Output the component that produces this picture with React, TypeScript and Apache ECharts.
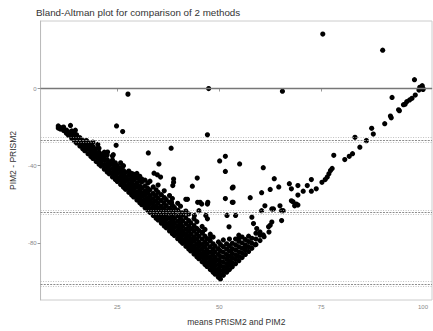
import React, { useEffect, useRef } from "react";
import * as echarts from "echarts";

const chartTitle = "Bland-Altman plot for comparison of 2 methods";
const xTitle = "means PRISM2 and PIM2";
const yTitle = "PIM2 - PRISM2";
const xTicks = [25, 50, 75, 100];
const yTicks = [-80, -40, 0];
const zeroLine = 0;
const meanDiff = -64;
const upperLoA = -26.7;
const lowerLoA = -101.3;
const ciLines = [-25.4, -28, -63.1, -64.9, -100, -102.6];

// dense band: [mean, list of differences]
const bandColumns: Array<[number, number[]]> = [
  [10.5, [-19.4, -20.5]],
  [11, [-20.2, -21]],
  [11.8, [-21.8, -20]],
  [12.5, [-23.2, -21.5]],
  [13, [-24.2, -22.5]],
  [13.8, [-25.8, -23.8, -22]],
  [14.5, [-27.2, -25, -23.5]],
  [15, [-28.2, -26.3, -24]],
  [15.8, [-29.8, -27.5, -25.5]],
  [16.5, [-31.2, -29, -27]],
  [17, [-32.2, -30.3, -28.2]],
  [17.8, [-33.8, -31.5, -29.5, -27.8]],
  [18.5, [-35.2, -33, -31, -29]],
  [19, [-36.2, -34.5, -32.3, -30]],
  [19.8, [-37.8, -35.6, -33.5, -31.2]],
  [20.5, [-39.2, -37, -35, -33, -31]],
  [21, [-40.2, -38.3, -36, -34]],
  [21.8, [-41.8, -39.5, -37.2, -35, -33]],
  [22.5, [-43.2, -41, -39, -36.8, -34.5]],
  [23, [-44.2, -42.3, -40, -38]],
  [23.8, [-45.8, -43.6, -41.5, -39.2, -37, -35]],
  [24.5, [-47.2, -45, -43, -40.8, -38.5]],
  [25, [-48.2, -46.3, -44, -42, -40]],
  [25.8, [-49.8, -47.6, -45.5, -43.2, -41, -38.5]],
  [26.5, [-51.2, -49, -47, -44.8, -42.5, -40]],
  [27, [-52.2, -50.3, -48, -46, -43.5]],
  [27.8, [-53.8, -51.6, -49.5, -47.2, -45, -42.8]],
  [28.5, [-55.2, -53, -51, -48.8, -46.5, -44]],
  [29, [-56.2, -54.3, -52, -50, -47.6, -45.2]],
  [29.8, [-57.8, -55.6, -53.5, -51.2, -49, -46.5, -44]],
  [30.5, [-59.2, -57, -55, -52.8, -50.5, -47.8, -45.5]],
  [31, [-60.2, -58.3, -56, -54, -51.4, -48.5]],
  [31.8, [-61.8, -59.6, -57.5, -55.2, -53, -50.5, -47.5]],
  [32.5, [-63.2, -61, -59, -56.8, -54.3, -51.8, -49]],
  [33, [-64.2, -62.3, -60, -58, -55.5, -52.6, -48]],
  [33.8, [-65.8, -63.6, -61.5, -59.2, -57, -54.4, -51]],
  [34.5, [-67.2, -65, -63, -60.8, -58.3, -55.5, -52.5]],
  [35, [-68.2, -66.3, -64, -62, -59.5, -56.8, -53.8, -50]],
  [35.8, [-69.8, -67.6, -65.5, -63.2, -61, -58, -55]],
  [36.5, [-71.2, -69, -67, -64.8, -62.3, -59.5, -56.5, -53]],
  [37, [-72.2, -70.3, -68, -66, -63.5, -60.8, -57.5]],
  [37.8, [-73.8, -71.6, -69.5, -67.2, -64.6, -62, -59, -55.5]],
  [38.5, [-75.2, -73, -71, -68.6, -66, -63.4, -60.5, -57]],
  [39, [-76.2, -74.3, -72, -69.8, -67.3, -64.5, -61.6]],
  [39.8, [-77.8, -75.6, -73.5, -71.2, -68.8, -66, -63, -59.5]],
  [40.5, [-79.2, -77, -75, -72.6, -70, -67.2, -64.2, -61]],
  [41, [-80.2, -78.3, -76, -73.8, -71.5, -68.5, -65.5]],
  [41.8, [-81.8, -79.6, -77.5, -75.2, -72.8, -70, -67, -63.5]],
  [42.5, [-83.2, -81, -79, -76.6, -74, -71.4, -68.4, -65]],
  [43, [-84.2, -82.3, -80, -77.8, -75.5, -72.8, -69.5]],
  [43.8, [-85.8, -83.6, -81.5, -79.2, -76.8, -74, -71, -67.5]],
  [44.5, [-87.2, -85, -83, -80.6, -78, -75.4, -72.5, -69]],
  [45, [-88.2, -86.3, -84, -81.8, -79.5, -76.6, -73.6]],
  [45.8, [-89.8, -87.6, -85.5, -83.2, -80.8, -78, -75, -71.5]],
  [46.5, [-91.2, -89, -87, -84.6, -82, -79.5, -76.5, -73]],
  [47, [-92.2, -90.3, -88, -85.8, -83.5, -80.6, -77.8]],
  [47.8, [-93.8, -91.6, -89.5, -87.2, -84.8, -82, -79, -75.5]],
  [48.5, [-95.2, -93, -91, -88.6, -86, -83.4, -80.5, -77]],
  [49, [-96.2, -94.3, -92, -89.8, -87.5, -84.6, -81.8]],
  [49.8, [-97.8, -95.6, -93.5, -91.2, -88.8, -86, -83, -79.5]],
  [50.3, [-98.7, -96.5, -94.3, -92, -89.6, -87, -84.2, -80.8]],
  [51, [-96.8, -94.6, -92.4, -90, -87.5, -84.8, -82, -78.5]],
  [51.8, [-95.2, -93, -90.8, -88.4, -86, -83.2, -80.5]],
  [52.5, [-93.8, -91.5, -89.2, -86.8, -84.2, -81.5, -78]],
  [53.2, [-92.4, -90.2, -87.8, -85.5, -83, -80.2]],
  [54, [-90.8, -88.5, -86.2, -83.6, -81, -78]],
  [54.8, [-89.2, -87, -84.6, -82, -79.2, -76]],
  [55.6, [-87.6, -85.2, -82.8, -80, -77]],
  [56.4, [-86, -83.5, -81, -78.2]],
  [57.2, [-84.4, -82, -79.3, -76.5]],
  [58, [-82.8, -80.2, -77.6]],
  [59, [-80.8, -78, -75]],
  [60, [-78.8, -76]],
  [61, [-76.8]],
  [62.2, [-74.4]],
];

// individual points: [mean, difference]
const scatteredPoints: Array<[number, number]> = [
  [75.4, 28.2], [90.1, 19.9], [97.9, 4.6], [27.6, -2.9], [47.4, 0], [65.5, -1.4], [92.4, -4.6],
  [99.7, 0.9], [100, 0], [99.5, 0.3], [100, -0.5], [99.2, 0.6], [99.8, 1.5], [99, -0.8],
  [98.1, -3.4], [97.3, -5.1], [96.7, -5.9], [96, -6.8], [95.6, -8.1], [95.2, -8.4], [94.2, -11.5],
  [94, -11], [92.2, -15.2], [92, -14.3], [90.6, -18.2], [87.8, -23.6], [87.4, -20.6], [86.1, -27],
  [83.3, -25.3], [84.5, -30.4], [82.7, -33.8], [81.9, -35.1], [80.8, -36.8], [78.1, -34.6],
  [77.7, -41.4], [77.3, -42.5], [76.9, -44.2], [76.5, -45.9], [76, -47.2], [75.2, -48.6],
  [73.8, -52], [72.6, -53.2], [71.6, -50.3], [72.6, -47.2], [70.6, -53.2], [69.3, -50.3],
  [69.3, -55.2], [67.7, -52], [67.2, -49.3], [64.6, -51], [63.5, -46.7], [62.5, -52.3],
  [60.8, -41], [60.4, -54], [55, -39.1], [53.4, -51.1], [53.2, -59], [51.5, -43], [51.5, -35.1],
  [50.1, -37.5], [51.5, -57], [47.1, -24], [47.1, -59.9], [57.6, -56.6], [61.2, -60.8],
  [62.9, -62.4], [64.9, -60.8], [65.7, -63.3], [68.1, -58.7], [68.5, -60.8], [69.3, -60.4],
  [67.7, -58.2], [68.9, -59.9], [60.4, -63.3], [63.3, -62.4], [65.3, -63.3], [65.3, -68.4],
  [62.5, -70.9], [62.1, -71.7], [62.9, -69.2], [59.2, -72.6], [60, -74.3], [58, -66.7],
  [58.4, -70], [60.8, -75.9], [58.8, -81], [56.4, -81.9], [54.8, -77.6], [52.4, -71.7],
  [51.9, -65.8], [54, -65.8], [46.7, -65.8], [47.1, -67.5],
  [13.5, -19.1], [24.8, -19.4], [26.3, -22.3], [14.7, -21.6], [24.7, -29.4], [38.2, -30.9],
  [32.6, -33.4], [35.2, -39.1], [34, -43.9], [34.8, -44.7], [35.6, -45.9], [38.8, -46.9],
  [38.8, -48.6], [38.6, -50.3], [44.6, -46.4], [43.4, -50.6], [53.2, -51.5], [29, -44.4],
  [31, -46.9], [24, -34.3], [22.6, -32.9], [21.8, -33.8], [17.4, -27], [19, -27.8], [20.2, -29],
  [38.3, -59], [42.2, -57.4], [45.3, -59], [45.7, -59.9], [47.2, -59], [53.4, -59],
  [41.8, -57.4], [44.7, -59], [37.8, -59], [45, -63.3], [43.9, -65.8], [41.4, -64.1],
  [43.4, -72.6], [45.9, -74.3], [47.9, -76.8],
];

const xMin = 6.16;
const xMax = 102.2;
const yMin = -109.6;
const yMax = 35;

export default function App() {
  const ref = useRef<HTMLDivElement>(null);
  useEffect(() => {
    if (!ref.current) return;
    const chart = echarts.init(ref.current, undefined, { renderer: "svg" });
    const points = [
      ...bandColumns.flatMap(([m, ds]) => ds.map((d) => [m, d])),
      ...scatteredPoints,
    ];
    const font = "Liberation Sans, Arial, Helvetica, sans-serif";
    chart.setOption({
      animation: false,
      backgroundColor: "#ffffff",
      title: {
        text: chartTitle,
        left: 36,
        top: 7,
        padding: 0,
        textStyle: { fontSize: 9.8, fontWeight: "normal", color: "#333", fontFamily: font },
      },
      grid: {
        left: 36,
        right: 1,
        top: 21,
        bottom: 25,
        show: true,
        borderColor: "#cccccc",
        borderWidth: 1,
        backgroundColor: "#ffffff",
      },
      xAxis: {
        type: "value",
        min: xMin,
        max: xMax,
        name: xTitle,
        nameLocation: "middle",
        nameGap: 17,
        nameTextStyle: { fontSize: 8.5, color: "#333", fontFamily: font },
        axisLine: { show: true, lineStyle: { color: "#bbbbbb" } },
        axisTick: { show: true, length: 3, customValues: xTicks, lineStyle: { color: "#999" } },
        axisLabel: { customValues: xTicks, fontSize: 6, color: "#888", margin: 4, fontFamily: font },
        splitLine: { show: false },
      },
      yAxis: {
        type: "value",
        min: yMin,
        max: yMax,
        name: yTitle,
        nameLocation: "middle",
        nameGap: 16,
        nameTextStyle: { fontSize: 8.5, color: "#333", fontFamily: font },
        axisLine: { show: true, lineStyle: { color: "#bbbbbb" } },
        axisTick: { show: true, length: 3, customValues: yTicks, lineStyle: { color: "#999" } },
        axisLabel: { customValues: yTicks, fontSize: 6, color: "#888", margin: 4, fontFamily: font },
        splitLine: { show: false },
      },
      series: [
        {
          type: "scatter",
          data: points,
          symbolSize: 5.2,
          itemStyle: { color: "#000000", opacity: 1, borderWidth: 0 },
          silent: true,
          z: 3,
          markLine: {
            silent: true,
            symbol: "none",
            label: { show: false },
            animation: false,
            data: [
              { yAxis: zeroLine, lineStyle: { color: "#777", width: 1.3, type: "solid" } },
              ...[upperLoA, meanDiff, lowerLoA].map((v) => ({
                yAxis: v,
                lineStyle: { color: "#8c8c8c", width: 1.2, type: [2, 1.2] },
              })),
              ...ciLines.map((v) => ({
                yAxis: v,
                lineStyle: { color: "#b0b0b0", width: 0.8, type: [1, 1.5] },
              })),
            ],
          },
        },
      ],
    });
    return () => chart.dispose();
  }, []);
  return (
    <div
      ref={ref}
      style={{ position: "fixed", left: 0, top: 0, width: 433, height: 331 }}
    />
  );
}
